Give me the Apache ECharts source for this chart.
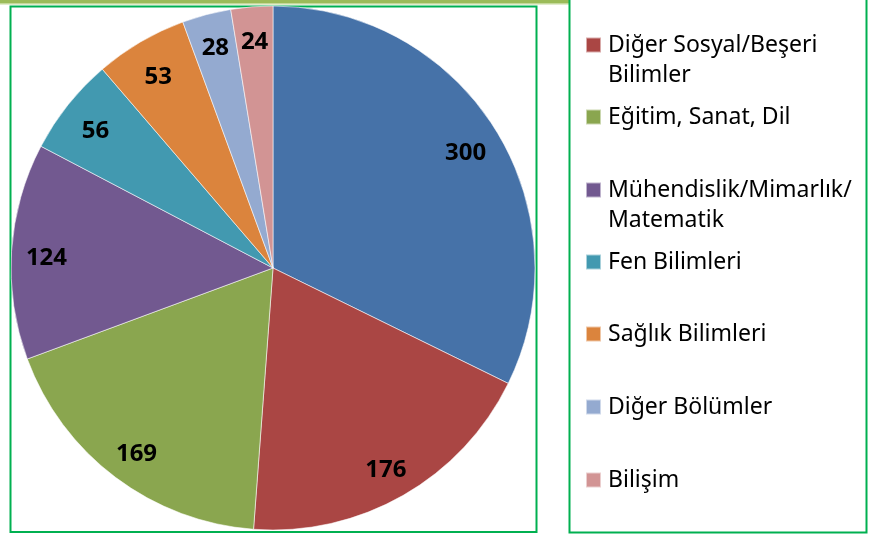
<!DOCTYPE html>
<html>
<head>
<meta charset="utf-8">
<script src="https://cdn.jsdelivr.net/npm/echarts@6/dist/echarts.min.js"></script>
<style>
  html, body { margin: 0; padding: 0; background: #fff; }
  #chart { width: 871px; height: 536px; }
</style>
</head>
<body>
<div id="chart"></div>
<script>
// bölüm adları (ilki lejantta görünmüyor, kesilmiş)
const categories = [
  'İktisadi ve İdari Bilimler',
  'Diğer Sosyal/Beşeri Bilimler',
  'Eğitim, Sanat, Dil',
  'Mühendislik/Mimarlık/Matematik',
  'Fen Bilimleri',
  'Sağlık Bilimleri',
  'Diğer Bölümler',
  'Bilişim'
]
const values = [300, 176, 169, 124, 56, 53, 28, 24]
const colors = ['#4672a8', '#aa4644', '#8aa64f', '#725990', '#4299b0', '#db843d', '#94aad0', '#d29494']

// lejantta iki satıra bölünen adlar
const legendWraps = {
  'Diğer Sosyal/Beşeri Bilimler': ['Diğer Sosyal/Beşeri', 'Bilimler'],
  'Mühendislik/Mimarlık/Matematik': ['Mühendislik/Mimarlık/', 'Matematik']
}

const chart = echarts.init(document.getElementById('chart'))

const pieData = categories.map((name, i) => ({
  name,
  value: values[i],
  itemStyle: { color: colors[i] }
}))

// etiket dilimleri; en üstteki küçük iki dilimin etiketi kenara daha yakın
const labelData = categories.map((name, i) => {
  const item = { name, value: values[i] }
  if (i >= 6) item.label = { rich: { v: { padding: [0, 0, 0, 0] } } }
  return item
})

// lejant satırlarının orta noktaları (ilk satır)
const legendRows = [45, 117, 190, 262, 334, 407, 480]
const legends = categories.slice(1).map((name, i) => {
  const wrap = legendWraps[name]
  return {
    data: [name],
    left: 585,
    top: legendRows[i] - (wrap ? 45 : 15),
    padding: 0,
    itemWidth: 15,
    itemHeight: 15,
    icon: 'rect',
    selectedMode: false,
    formatter: (n) => (legendWraps[n] ? '\n' + legendWraps[n].join('\n') : n),
    textStyle: {
      fontFamily: 'Noto Sans',
      fontSize: 23,
      lineHeight: 30,
      color: '#000',
      padding: [0, 0, 0, 2]
    }
  }
})

chart.setOption({
  animation: false,
  legend: legends,
  graphic: [
    { type: 'rect', shape: { x: 0, y: 0, width: 569, height: 3 }, style: { fill: '#9bbb59' } },
    { type: 'rect', shape: { x: 0, y: 3, width: 569, height: 1.5 }, style: { fill: '#c4d99a' } },
    { type: 'rect', shape: { x: 10.5, y: 6.5, width: 526, height: 525.5 }, style: { fill: 'none', stroke: '#00b050', lineWidth: 2 } },
    { type: 'rect', shape: { x: 569.5, y: -5, width: 297, height: 537.5 }, style: { fill: 'none', stroke: '#00b050', lineWidth: 2 } }
  ],
  series: [
    {
      name: 'dilimler',
      type: 'pie',
      center: [273, 268],
      radius: [0, 262],
      startAngle: 90,
      clockwise: true,
      silent: true,
      label: { show: false },
      labelLine: { show: false },
      itemStyle: { borderColor: 'rgba(255,255,255,0.55)', borderWidth: 1 },
      data: pieData
    },
    {
      name: 'etiketler',
      type: 'pie',
      center: [273, 268],
      radius: [186, 262],
      startAngle: 90,
      clockwise: true,
      silent: true,
      itemStyle: { color: 'rgba(0,0,0,0)', borderWidth: 0 },
      label: {
        show: true,
        position: 'inside',
        formatter: '{v|{c}}',
        rich: {
          v: {
            fontFamily: 'Noto Sans',
            fontWeight: 'bold',
            fontSize: 24,
            color: '#000',
            padding: [10, 0, 0, 0]
          }
        }
      },
      labelLine: { show: false },
      data: labelData
    }
  ]
})
</script>
</body>
</html>
